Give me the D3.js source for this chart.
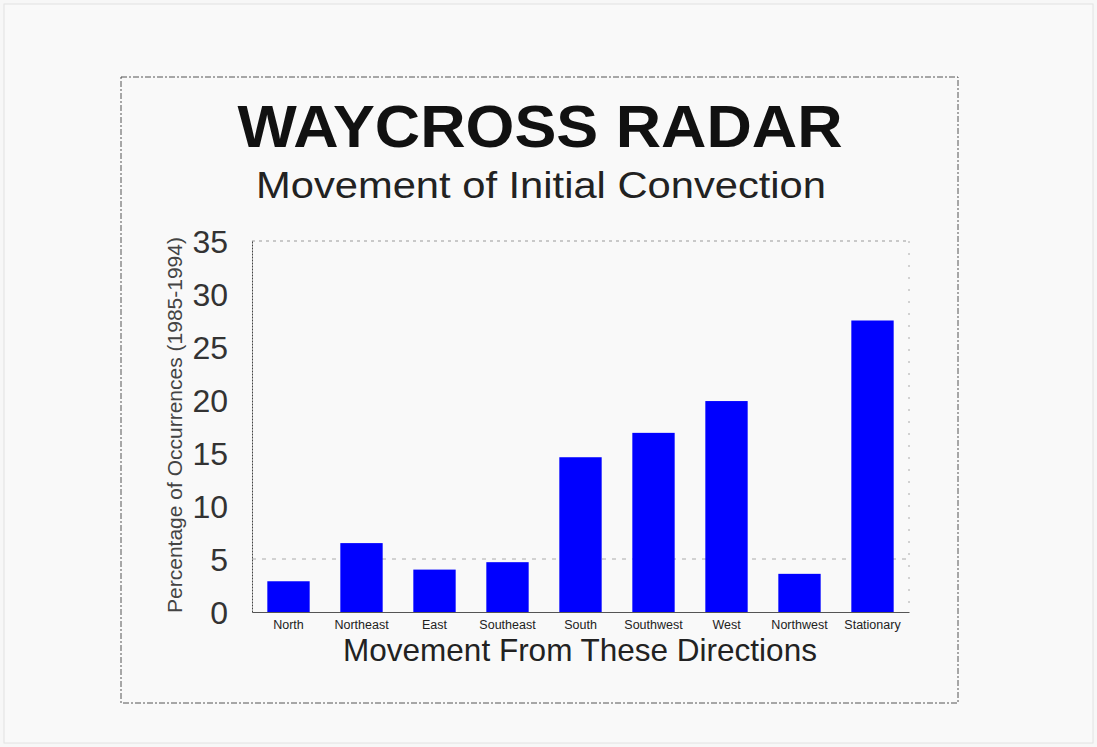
<!DOCTYPE html>
<html>
<head>
<meta charset="utf-8">
<script src="https://cdn.jsdelivr.net/npm/d3@7"></script>
<style>
  body { margin: 0; background: #ffffff; }
  svg { display: block; font-family: "Liberation Sans", Arial, sans-serif; }
</style>
</head>
<body>
<div id="container"></div>
<script>
// directions et pourcentages
const directions = ["North", "Northeast", "East", "Southeast", "South", "Southwest", "West", "Northwest", "Stationary"];
const percentages = [2.9, 6.5, 4.0, 4.7, 14.6, 16.9, 19.9, 3.6, 27.5];
const yTicks = [0, 5, 10, 15, 20, 25, 30, 35];

const width = 1097;
const height = 747;

const svg = d3.create("svg")
    .attr("width", width)
    .attr("height", height);

// fond "papier"
svg.append("rect")
    .attr("x", 0).attr("y", 0)
    .attr("width", width).attr("height", height)
    .attr("fill", "#f7f7f7");
svg.append("rect")
    .attr("x", 4).attr("y", 4)
    .attr("width", width - 8).attr("height", height - 8)
    .attr("fill", "#f9f9f9")
    .attr("stroke", "#e2e2e2");

// cadre pointillé extérieur
svg.append("rect")
    .attr("x", 121).attr("y", 77)
    .attr("width", 837).attr("height", 626)
    .attr("fill", "none")
    .attr("stroke", "#555")
    .attr("stroke-width", 1)
    .attr("stroke-dasharray", "6,2,2,2");

// titres
svg.append("text")
    .attr("x", 540).attr("y", 147)
    .attr("text-anchor", "middle")
    .attr("font-size", 60)
    .attr("font-weight", "bold")
    .attr("fill", "#111")
    .attr("textLength", 605)
    .attr("lengthAdjust", "spacingAndGlyphs")
    .text("WAYCROSS RADAR");

svg.append("text")
    .attr("x", 541).attr("y", 198)
    .attr("text-anchor", "middle")
    .attr("font-size", 36)
    .attr("fill", "#222")
    .attr("textLength", 570)
    .attr("lengthAdjust", "spacingAndGlyphs")
    .text("Movement of Initial Convection");

const x = d3.scaleBand()
    .domain(directions)
    .range([252, 909])
    .paddingInner(0.42)
    .paddingOuter(0.21);

const y = d3.scaleLinear()
    .domain([0, 35])
    .range([612, 241]);

// bordure pointillée de la zone du graphe (haut et droite)
const plot = svg.append("g");
plot.append("line")
    .attr("x1", 252).attr("x2", 909)
    .attr("y1", y(35)).attr("y2", y(35))
    .attr("stroke", "#999").attr("stroke-dasharray", "3,4");
plot.append("line")
    .attr("x1", 909).attr("x2", 909)
    .attr("y1", y(35)).attr("y2", y(0))
    .attr("stroke", "#aaa").attr("stroke-dasharray", "2,10");

// ligne de grille à 5
plot.append("line")
    .attr("x1", 252).attr("x2", 909)
    .attr("y1", y(5)).attr("y2", y(5))
    .attr("stroke", "#aaa").attr("stroke-dasharray", "4,6");

// barres
svg.append("g")
    .selectAll("rect")
    .data(directions.map((d, i) => ({ dir: d, val: percentages[i] })))
    .join("rect")
    .attr("x", d => x(d.dir))
    .attr("y", d => y(d.val))
    .attr("width", x.bandwidth())
    .attr("height", d => y(0) - y(d.val))
    .attr("fill", "#0000ff");

// axe y
const yAxis = svg.append("g")
    .attr("transform", "translate(252,0)")
    .call(d3.axisLeft(y).tickValues(yTicks).tickSize(0).tickPadding(24));
yAxis.select(".domain")
    .attr("stroke", "#444")
    .attr("stroke-dasharray", "2,1");
yAxis.selectAll("text")
    .attr("font-size", 32)
    .attr("font-family", "Liberation Sans, Arial, sans-serif")
    .attr("fill", "#333")
    .attr("dy", "0.36em");

// axe x
const xAxis = svg.append("g")
    .attr("transform", `translate(0,${y(0)})`)
    .call(d3.axisBottom(x).tickSize(0).tickPadding(8));
xAxis.select(".domain")
    .attr("stroke", "#555")
    .attr("stroke-width", 1.2);
xAxis.selectAll("text")
    .attr("font-size", 12.5)
    .attr("font-family", "Liberation Sans, Arial, sans-serif")
    .attr("fill", "#222");

// titres des axes
svg.append("text")
    .attr("transform", "translate(182,425) rotate(-90)")
    .attr("text-anchor", "middle")
    .attr("font-size", 21)
    .attr("fill", "#444")
    .text("Percentage of Occurrences (1985-1994)");

svg.append("text")
    .attr("x", 580).attr("y", 661)
    .attr("text-anchor", "middle")
    .attr("font-size", 31.5)
    .attr("fill", "#222")
    .text("Movement From These Directions");

d3.select("#container").node().append(svg.node());
</script>
</body>
</html>
